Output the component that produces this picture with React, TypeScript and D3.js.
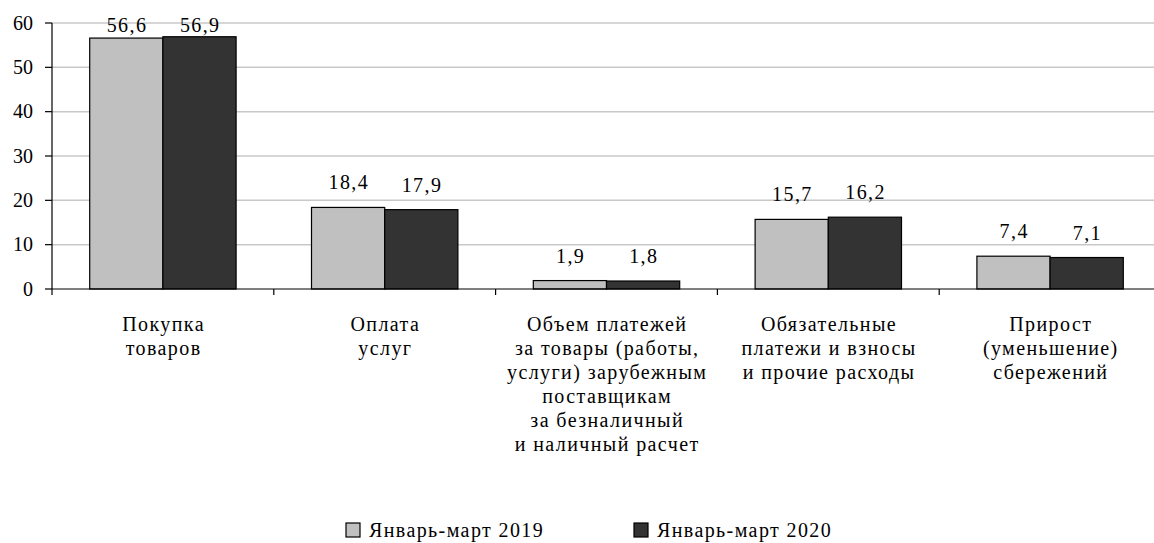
import React from "react";
import * as d3 from "d3";

const categories: string[][] = [
  ["Покупка", "товаров"],
  ["Оплата", "услуг"],
  ["Объем платежей", "за товары (работы,", "услуги) зарубежным", "поставщикам", "за безналичный", "и наличный расчет"],
  ["Обязательные", "платежи и взносы", "и прочие расходы"],
  ["Прирост", "(уменьшение)", "сбережений"],
];
const series2019 = [56.6, 18.4, 1.9, 15.7, 7.4];
const series2020 = [56.9, 17.9, 1.8, 16.2, 7.1];
const seriesNames = ["Январь-март 2019", "Январь-март 2020"];
const yTicks = [0, 10, 20, 30, 40, 50, 60];

const W = 1154;
const H = 543;
const FONT = "Liberation Serif";
const colors = ["#c0c0c0", "#333333"];

export default function App() {
  const x0 = 52;
  const x1 = 1161;
  const yTop = 23;
  const yBot = 289;
  const x = d3.scaleBand<number>().domain(d3.range(categories.length)).range([x0, x1]).paddingInner(0.34).paddingOuter(0.17);
  const step = x.step();
  const y = d3.scaleLinear().domain([0, 60]).range([yBot, yTop]);
  const sub = d3.scaleBand<number>().domain([0, 1]).range([0, x.bandwidth()]);
  const data = [series2019, series2020];
  const fmt = (v: number) => v.toFixed(1).replace(".", ",");
  const fs = 20;
  const ts = { fontFamily: FONT, fontSize: fs } as React.CSSProperties;
  const tsw = { fontFamily: FONT, fontSize: fs, letterSpacing: "1.4px" } as React.CSSProperties;

  return (
    <svg width={W} height={H} style={{ display: "block", position: "absolute", left: 0, top: 0 }}>
      <rect width={W} height={H} fill="#fff" />
      {yTicks.filter((t) => t > 0).map((t) => (
        <line key={t} x1={x0} x2={W} y1={y(t)} y2={y(t)} stroke="#c8c8c8" strokeWidth={1.5} />
      ))}
      {data.map((s, si) =>
        s.map((v, i) => (
          <rect key={`${si}-${i}`} x={(x(i) as number) + (sub(si) as number)} y={y(v)} width={sub.bandwidth()} height={yBot - y(v)} fill={colors[si]} stroke="#000" strokeWidth={1.2} />
        ))
      )}
      {data.map((s, si) =>
        s.map((v, i) => (
          <text key={`l${si}-${i}`} x={(x(i) as number) + (sub(si) as number) + sub.bandwidth() / 2 + 0.7} y={Math.max(y(v) - 18, 32)} textAnchor="middle" style={tsw}>{fmt(v)}</text>
        ))
      )}
      <line x1={x0} x2={x0} y1={yTop} y2={yBot} stroke="#000" strokeWidth={1.2} />
      <line x1={x0} x2={W} y1={yBot} y2={yBot} stroke="#000" strokeWidth={1.2} />
      {yTicks.map((t) => (
        <g key={`yt${t}`}>
          <line x1={x0 - 7} x2={x0} y1={y(t)} y2={y(t)} stroke="#000" strokeWidth={1.2} />
          <text x={x0 - 19} y={y(t)} dy="0.33em" textAnchor="end" style={ts}>{t}</text>
        </g>
      ))}
      {d3.range(categories.length + 1).map((i) => (
        <line key={`xt${i}`} x1={x0 + i * step} x2={x0 + i * step} y1={yBot} y2={yBot + 6} stroke="#000" strokeWidth={1.2} />
      ))}
      {categories.map((lines, i) => (
        <text key={`c${i}`} x={(x(i) as number) + x.bandwidth() / 2} y={331} textAnchor="middle" style={tsw}>
          {lines.map((l, j) => (
            <tspan key={j} x={(x(i) as number) + x.bandwidth() / 2 + 0.7} y={331 + j * 24}>{l}</tspan>
          ))}
        </text>
      ))}
      {seriesNames.map((n, i) => (
        <g key={n} transform={`translate(${346 + i * 288},0)`}>
          <rect x={0} y={523} width={14} height={14} fill={colors[i]} stroke="#000" strokeWidth={1.2} />
          <text x={23} y={537} style={tsw}>{n}</text>
        </g>
      ))}
    </svg>
  );
}
